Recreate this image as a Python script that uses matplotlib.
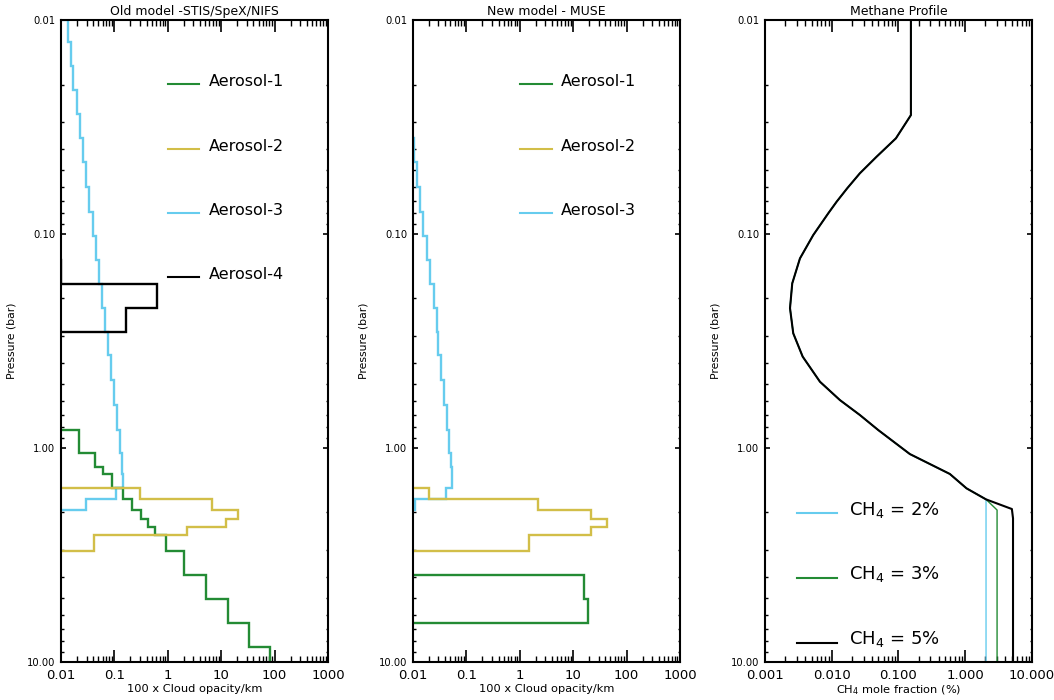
import numpy as np
import matplotlib
matplotlib.use("Agg")
import matplotlib.pyplot as plt
from matplotlib.ticker import LogLocator, NullFormatter

GREEN = "#238B34"
YELLOW = "#D2BE48"
CYAN = "#66CCEE"

# ---- panel 1: old model (layer edges in bar, values = 100 x opacity/km)
old_a3_edges = [0.0100, 0.0126, 0.0164, 0.0213, 0.0276, 0.0357, 0.0462, 0.0604,
                0.0787, 0.1016, 0.1324, 0.1720, 0.2220, 0.2871, 0.3661, 0.4803,
                0.630, 0.824, 1.059, 1.322, 1.543, 1.738, 1.949]
old_a3_vals = [0.0133, 0.0154, 0.0170, 0.0200, 0.0227, 0.0255, 0.0290, 0.0340,
               0.0392, 0.0452, 0.0515, 0.0586, 0.0676, 0.0759, 0.0863, 0.0996,
               0.113, 0.127, 0.136, 0.143, 0.107, 0.0294]

old_a1_edges = [0.824, 1.059, 1.223, 1.322, 1.543, 1.738, 1.949, 2.153, 2.332,
                2.550, 3.020, 3.918, 5.093, 6.595, 8.535, 10.0]
old_a1_vals = [0.0220, 0.0433, 0.0620, 0.0914, 0.147, 0.216, 0.319, 0.431,
               0.583, 0.937, 2.04, 5.19, 13.6, 33.6, 82.0]

old_a2_edges = [1.543, 1.738, 1.949, 2.153, 2.332, 2.550, 3.020]
old_a2_vals = [0.302, 6.81, 20.9, 12.3, 2.26, 0.042]

old_a4_edges = [0.1324, 0.1720, 0.2220, 0.2871]
old_a4_vals = [0.01, 0.620, 0.163]

# ---- panel 2: new model
new_a3_edges = [0.0357, 0.0462, 0.0604, 0.0787, 0.1016, 0.1324, 0.1720, 0.2220,
                0.2871, 0.3661, 0.4803, 0.630, 0.824, 1.059, 1.223, 1.543,
                1.738, 1.949]
new_a3_vals = [0.0104, 0.0120, 0.0135, 0.0156, 0.0181, 0.0208, 0.0247, 0.0278,
               0.0298, 0.0334, 0.0381, 0.0433, 0.0483, 0.0515, 0.0544, 0.0410,
               0.0109]

new_a2_edges = [1.543, 1.738, 1.949, 2.153, 2.332, 2.550, 3.020]
new_a2_vals = [0.0202, 2.16, 21.5, 42.4, 21.5, 1.51]

new_a1_edges = [3.918, 5.093, 6.595]
new_a1_vals = [16.1, 19.2]

# ---- panel 3: methane profile (% mole fraction vs pressure in bar)
ch4_p = [0.01, 0.0278, 0.0357, 0.0435, 0.0520, 0.0611, 0.0706, 0.0800, 0.1011,
         0.130, 0.170, 0.222, 0.291, 0.374, 0.490, 0.597, 0.701, 0.824, 1.067,
         1.322, 1.543, 1.738]
ch4_x = [0.1535, 0.1535, 0.0915, 0.0470, 0.0264, 0.01706, 0.01184, 0.00887,
         0.00528, 0.00334, 0.00256, 0.00237, 0.00265, 0.00367, 0.00666, 0.01327,
         0.0264, 0.0497, 0.148, 0.588, 1.045, 2.05]
tail2_p, tail2_x = [10.0], [2.05]
tail3_p, tail3_x = [1.949, 10.0], [3.0, 3.0]
tail5_p, tail5_x = [1.928, 2.13, 10.0], [5.0, 5.2, 5.2]

y_ticks = [0.01, 0.1, 1.0, 10.0]
y_labels = ["0.01", "0.10", "1.00", "10.00"]
op_ticks = [0.01, 0.1, 1, 10, 100, 1000]
op_labels = ["0.01", "0.1", "1", "10", "100", "1000"]
ch4_ticks = [0.001, 0.01, 0.1, 1, 10]
ch4_labels = ["0.001", "0.010", "0.100", "1.000", "10.000"]


def step_xy(edges, vals, floor):
    xs, ys = [floor], [edges[0]]
    for i, v in enumerate(vals):
        xs += [v, v]
        ys += [edges[i], edges[i + 1]]
    if edges[-1] < 10:
        xs.append(floor)
        ys.append(edges[-1])
    return xs, ys


def style_axes(ax, xlim, xticks, xlabels, xlabel, title):
    ax.set_xscale("log")
    ax.set_yscale("log")
    ax.set_xlim(*xlim)
    ax.set_ylim(10, 0.01)
    ax.set_xticks(xticks, labels=xlabels)
    ax.set_yticks(y_ticks, labels=y_labels)
    ax.xaxis.set_minor_locator(LogLocator(base=10, subs=np.arange(2, 10), numticks=100))
    ax.yaxis.set_minor_locator(LogLocator(base=10, subs=np.arange(2, 10), numticks=100))
    ax.xaxis.set_minor_formatter(NullFormatter())
    ax.yaxis.set_minor_formatter(NullFormatter())
    ax.tick_params(which="both", direction="in", top=True, right=True, color="black")
    ax.tick_params(axis="x", which="major", length=8.5, width=1.2, labelsize=9.5, pad=5)
    ax.tick_params(axis="x", which="minor", length=4.3, width=1.0)
    ax.tick_params(axis="y", which="major", length=3.6, width=1.2, labelsize=7.2, pad=4)
    ax.tick_params(axis="y", which="minor", length=1.8, width=1.0)
    for s in ax.spines.values():
        s.set_linewidth(1.5)
    ax.set_ylabel("Pressure (bar)", fontsize=7.8)
    ax.yaxis.set_label_coords(-0.165, 0.5)
    ax.set_xlabel(xlabel, fontsize=8.2)
    ax.xaxis.set_label_coords(0.5, -0.034)
    ax.set_title(title, fontsize=9, pad=3.5)


def legend_entry(ax, x0, x1, xt, y, yt, color, text, size, lw):
    ax.plot([x0, x1], [y, y], color=color, lw=lw, transform=ax.transAxes, clip_on=False)
    ax.text(xt, yt, text, transform=ax.transAxes, fontsize=size, va="baseline", ha="left")


fig = plt.figure(figsize=(10.54, 7.0), dpi=100)
w, h = 0.2533, 0.917
ax1 = fig.add_axes([0.0579, 0.0543, w, h])
ax2 = fig.add_axes([0.3918, 0.0543, w, h])
ax3 = fig.add_axes([0.7258, 0.0543, w, h])

lw = 1.7
# panel 1
for edges, vals, col in [(old_a3_edges, old_a3_vals, CYAN),
                         (old_a1_edges, old_a1_vals, GREEN),
                         (old_a2_edges, old_a2_vals, YELLOW),
                         (old_a4_edges, old_a4_vals, "black")]:
    xs, ys = step_xy(edges, vals, 0.01)
    ax1.plot(xs, ys, color=col, lw=lw, solid_joinstyle="miter")
style_axes(ax1, (0.01, 1000), op_ticks, op_labels, "100 x Cloud opacity/km",
           "Old model -STIS/SpeX/NIFS")
leg_y = [0.8972, 0.7964, 0.6963, 0.5966]
leg_line = [0.9, 0.799, 0.699, 0.599]
for i, (col, name) in enumerate([(GREEN, "Aerosol-1"), (YELLOW, "Aerosol-2"),
                                 (CYAN, "Aerosol-3"), ("black", "Aerosol-4")]):
    legend_entry(ax1, 0.400, 0.518, 0.554, leg_line[i], leg_y[i], col, name, 11.5, 1.5)

# panel 2
for edges, vals, col in [(new_a3_edges, new_a3_vals, CYAN),
                         (new_a2_edges, new_a2_vals, YELLOW),
                         (new_a1_edges, new_a1_vals, GREEN)]:
    xs, ys = step_xy(edges, vals, 0.01)
    ax2.plot(xs, ys, color=col, lw=lw, solid_joinstyle="miter")
style_axes(ax2, (0.01, 1000), op_ticks, op_labels, "100 x Cloud opacity/km",
           "New model - MUSE")
for i, (col, name) in enumerate([(GREEN, "Aerosol-1"), (YELLOW, "Aerosol-2"),
                                 (CYAN, "Aerosol-3")]):
    legend_entry(ax2, 0.401, 0.519, 0.554, leg_line[i], leg_y[i], col, name, 11.5, 1.5)

# panel 3
ax3.plot(ch4_x + tail2_x, ch4_p + tail2_p, color=CYAN, lw=1.0)
ax3.plot(ch4_x + tail3_x, ch4_p + tail3_p, color=GREEN, lw=1.0)
ax3.plot(ch4_x + tail5_x, ch4_p + tail5_p, color="black", lw=1.5)
style_axes(ax3, (0.001, 10), ch4_ticks, ch4_labels, "CH$_4$ mole fraction (%)",
           "Methane Profile")
ch4_leg_line = [0.2316, 0.1313, 0.030]
ch4_leg_txt = [0.229, 0.1286, 0.0273]
for i, (col, name) in enumerate([(CYAN, "CH$_4$ = 2%"), (GREEN, "CH$_4$ = 3%"),
                                 ("black", "CH$_4$ = 5%")]):
    legend_entry(ax3, 0.121, 0.268, 0.315, ch4_leg_line[i], ch4_leg_txt[i], col, name, 13, 1.5)

fig.savefig("out.png", dpi=100)
